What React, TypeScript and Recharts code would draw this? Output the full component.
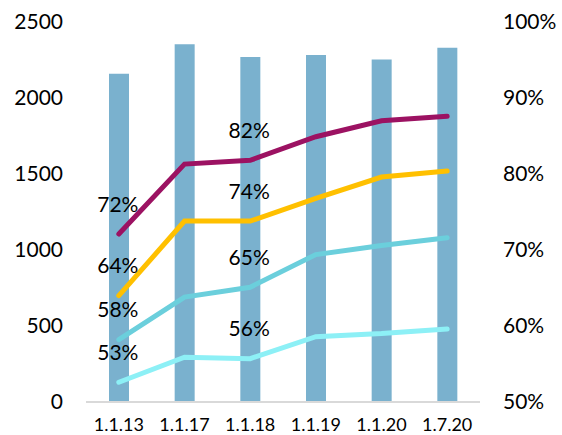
import { ComposedChart, Bar, Line, XAxis, YAxis, LabelList } from 'recharts';

const dates = ['1.1.13', '1.1.17', '1.1.18', '1.1.19', '1.1.20', '1.7.20'];
const totals = [2160, 2353, 2270, 2283, 2254, 2331];
const purple = [72.1, 81.3, 81.8, 84.9, 87.0, 87.6];
const yellow = [64.0, 73.8, 73.8, 76.8, 79.6, 80.4];
const teal = [58.2, 63.8, 65.1, 69.4, 70.6, 71.6];
const cyan = [52.6, 55.9, 55.7, 58.6, 59.0, 59.6];
const leftTicks = [0, 500, 1000, 1500, 2000, 2500];
const rightTicks = [50, 60, 70, 80, 90, 100];
const labelled = [0, 2];

const data = dates.map((d, i) => ({
  name: d,
  total: totals[i],
  purple: purple[i],
  yellow: yellow[i],
  teal: teal[i],
  cyan: cyan[i],
}));

const font = 'Lato, "Open Sans", sans-serif';

const PctLabel = (props: any) => {
  const { x, y, value, index } = props;
  if (!labelled.includes(index)) return null;
  return (
    <text x={x - 1} y={y - 31} textAnchor="middle" dominantBaseline="central"
      fontSize={21} fontFamily={font} fill="#000">
      {Math.round(value)}%
    </text>
  );
};

const series = [
  { key: 'cyan', color: '#8DF0F6' },
  { key: 'teal', color: '#6BCFDC' },
  { key: 'yellow', color: '#FFC000' },
  { key: 'purple', color: '#9C1262' },
];

export default function App() {
  return (
    <div style={{ position: 'absolute', left: 0, top: 0, background: '#fff' }}>
      <ComposedChart width={562} height={435} data={data}
        margin={{ top: 22, right: 0, bottom: 0, left: 0 }}>
        <XAxis dataKey="name" height={33} axisLine={{ stroke: '#D9D9D9', strokeWidth: 2 }}
          tickLine={false} tickMargin={10}
          tick={{ fontSize: 18, fontFamily: font, fill: '#000' }} />
        <YAxis yAxisId="left" width={86} domain={[0, 2500]} ticks={leftTicks}
          axisLine={false} tickLine={false} tickMargin={17}
          tick={{ fontSize: 21, fontFamily: font, fill: '#000' }} />
        <YAxis yAxisId="right" orientation="right" width={82} domain={[50, 100]}
          ticks={rightTicks} tickFormatter={(v) => `${v}%`}
          axisLine={false} tickLine={false} tickMargin={17}
          tick={{ fontSize: 21, fontFamily: font, fill: '#000' }} />
        <Bar yAxisId="left" dataKey="total" fill="#7AB1CE" barSize={20}
          isAnimationActive={false} />
        {series.map((s) => (
          <Line key={s.key} yAxisId="right" type="linear" dataKey={s.key}
            stroke={s.color} strokeWidth={5} strokeLinecap="round" dot={false}
            activeDot={false} isAnimationActive={false}>
            <LabelList dataKey={s.key} content={PctLabel} />
          </Line>
        ))}
      </ComposedChart>
    </div>
  );
}
